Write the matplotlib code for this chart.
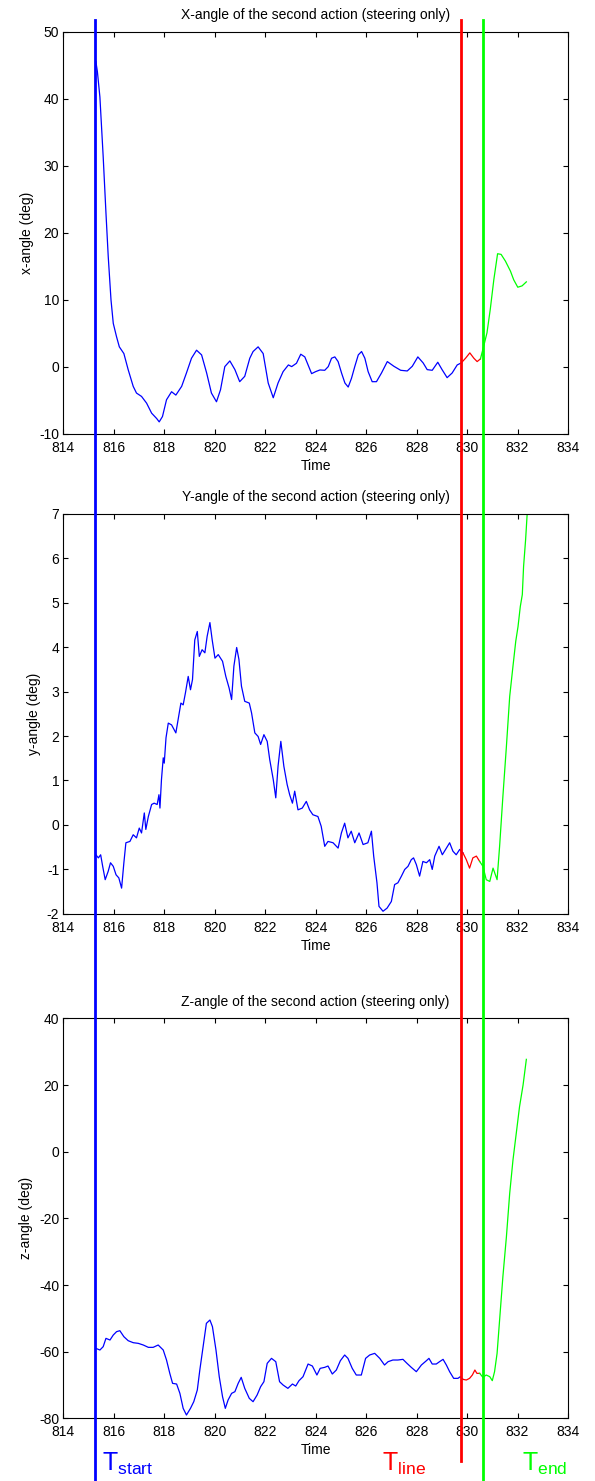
import numpy as np
import matplotlib
matplotlib.use("Agg")
import matplotlib.pyplot as plt
from matplotlib.lines import Line2D
from matplotlib.transforms import blended_transform_factory

plt.rcParams["font.family"] = ["Liberation Sans", "DejaVu Sans"]
plt.rcParams["mathtext.fontset"] = "custom"
plt.rcParams["mathtext.rm"] = "Liberation Sans"
plt.rcParams["axes.unicode_minus"] = False

# event times (s)
T_START = 815.27
T_LINE = 829.75
T_END = 830.62
RED_TO_GREEN = 830.42   # where trace colour switches to green

# --- X angle ---
x_time = [815.29, 815.35, 815.45, 815.58, 815.69, 815.78, 815.89, 815.98, 816.11, 816.22,
          816.40, 816.57, 816.77, 816.90, 817.10, 817.30, 817.50, 817.70, 817.80, 817.93,
          818.09, 818.29, 818.46, 818.69, 818.88, 819.08, 819.28, 819.48, 819.68, 819.87,
          820.07, 820.23, 820.40, 820.60, 820.80, 820.99, 821.19, 821.39, 821.52, 821.72,
          821.92, 822.12, 822.32, 822.51, 822.71, 822.92, 823.05, 823.24, 823.41, 823.57,
          823.70, 823.84, 824.00, 824.17, 824.36, 824.50, 824.63, 824.76, 824.89, 825.03,
          825.16, 825.29, 825.42, 825.55, 825.69, 825.82, 825.95, 826.08, 826.24, 826.41,
          826.61, 826.84, 827.10, 827.37, 827.63, 827.83, 828.05, 828.26, 828.42, 828.62,
          828.84, 829.01, 829.21, 829.41, 829.61, 829.77, 829.94, 830.11, 830.27, 830.40,
          830.53, 830.66, 830.79, 830.92, 831.06, 831.21, 831.35, 831.52, 831.72, 831.85,
          832.01, 832.18, 832.35]
x_vals = [45.6, 44.1, 40.3, 31.4, 23.0, 16.5, 10.0, 6.5, 4.5, 3.0,
          2.0, -0.4, -2.9, -3.9, -4.4, -5.4, -6.9, -7.7, -8.2, -7.4,
          -4.9, -3.7, -4.2, -2.9, -0.9, 1.3, 2.5, 1.8, -0.9, -3.9,
          -5.2, -3.4, 0.05, 0.9, -0.4, -2.2, -1.4, 1.3, 2.3, 3.0,
          2.0, -2.4, -4.6, -2.4, -0.7, 0.3, 0.05, 0.55, 1.9, 1.5,
          0.3, -1.0, -0.7, -0.45, -0.5, 0.05, 1.3, 1.5, 0.8, -0.95,
          -2.4, -3.0, -1.7, 0.05, 1.8, 2.3, 1.3, -0.7, -2.2, -2.2,
          -0.9, 0.8, 0.1, -0.5, -0.6, 0.1, 1.5, 0.6, -0.4, -0.5,
          0.7, -0.4, -1.6, -0.9, 0.3, 0.6, 1.3, 2.1, 1.3, 0.8,
          1.2, 3.1, 5.1, 8.6, 13.0, 16.9, 16.8, 15.8, 14.3, 13.0,
          11.9, 12.1, 12.7]

# --- Y angle ---
y_time = [815.29, 815.39, 815.48, 815.56, 815.66, 815.78, 815.87, 815.98, 816.09, 816.20,
          816.31, 816.40, 816.48, 816.64, 816.77, 816.90, 817.01, 817.10, 817.21, 817.27,
          817.37, 817.50, 817.60, 817.72, 817.79, 817.83, 817.89, 817.96, 818.00, 818.07,
          818.16, 818.29, 818.46, 818.55, 818.66, 818.75, 818.84, 818.95, 819.04, 819.12,
          819.21, 819.31, 819.39, 819.50, 819.61, 819.70, 819.81, 819.90, 820.01, 820.14,
          820.31, 820.44, 820.57, 820.67, 820.76, 820.87, 820.96, 821.06, 821.19, 821.37,
          821.46, 821.59, 821.72, 821.82, 821.95, 822.08, 822.18, 822.32, 822.42, 822.51,
          822.62, 822.74, 822.87, 822.97, 823.08, 823.17, 823.30, 823.47, 823.63, 823.76,
          823.89, 824.09, 824.22, 824.36, 824.49, 824.69, 824.89, 825.02, 825.15, 825.28,
          825.41, 825.55, 825.72, 825.88, 826.07, 826.21, 826.30, 826.43, 826.51, 826.67,
          826.83, 827.00, 827.13, 827.26, 827.40, 827.53, 827.66, 827.79, 827.88, 827.99,
          828.12, 828.25, 828.39, 828.52, 828.62, 828.72, 828.89, 829.02, 829.15, 829.31,
          829.44, 829.57, 829.71, 829.84, 829.97, 830.10, 830.23, 830.37, 830.50, 830.63,
          830.76, 830.90, 831.03, 831.19, 831.29, 831.42, 831.56, 831.69, 831.82, 831.93,
          832.02, 832.11, 832.19, 832.24, 832.32, 832.38]
y_vals = [-0.67, -0.74, -0.67, -0.93, -1.23, -1.04, -0.85, -0.93, -1.12, -1.19,
          -1.42, -0.85, -0.40, -0.37, -0.22, -0.29, -0.07, -0.18, 0.27, -0.10,
          0.19, 0.46, 0.49, 0.46, 0.68, 0.38, 1.02, 1.51, 1.39, 1.96,
          2.29, 2.25, 2.07, 2.37, 2.74, 2.70, 2.97, 3.34, 3.04, 3.27,
          4.16, 4.35, 3.79, 3.94, 3.87, 4.24, 4.55, 4.16, 3.75, 3.83,
          3.68, 3.34, 3.08, 2.82, 3.57, 3.99, 3.72, 3.12, 2.78, 2.74,
          2.52, 2.07, 1.99, 1.81, 2.03, 1.88, 1.47, 1.02, 0.61, 1.32,
          1.88, 1.32, 0.91, 0.68, 0.49, 0.76, 0.34, 0.38, 0.53, 0.34,
          0.23, 0.19, -0.03, -0.48, -0.37, -0.40, -0.52, -0.18, 0.04, -0.29,
          -0.14, -0.40, -0.18, -0.44, -0.40, -0.14, -0.70, -1.30, -1.83, -1.94,
          -1.87, -1.72, -1.34, -1.30, -1.15, -1.00, -0.93, -0.78, -0.74, -0.89,
          -1.15, -0.82, -0.85, -0.78, -1.00, -0.70, -0.48, -0.67, -0.55, -0.40,
          -0.59, -0.67, -0.55, -0.63, -0.78, -0.97, -0.74, -0.70, -0.82, -0.93,
          -1.23, -1.27, -0.97, -1.23, -0.48, 0.64, 1.77, 2.89, 3.57, 4.13,
          4.46, 4.91, 5.18, 5.81, 6.41, 6.97]

# --- Z angle ---
z_time = [815.29, 815.45, 815.58, 815.69, 815.85, 815.98, 816.11, 816.24, 816.40, 816.57,
          816.77, 816.97, 817.17, 817.37, 817.56, 817.76, 817.96, 818.09, 818.22, 818.33,
          818.49, 818.62, 818.75, 818.88, 819.04, 819.17, 819.31, 819.41, 819.54, 819.67,
          819.81, 819.91, 820.05, 820.18, 820.31, 820.42, 820.53, 820.67, 820.80, 820.93,
          821.05, 821.19, 821.37, 821.52, 821.68, 821.82, 821.95, 822.08, 822.25, 822.42,
          822.57, 822.71, 822.90, 823.08, 823.21, 823.34, 823.50, 823.70, 823.87, 824.05,
          824.18, 824.36, 824.49, 824.66, 824.82, 824.98, 825.15, 825.28, 825.45, 825.61,
          825.81, 825.98, 826.14, 826.34, 826.54, 826.73, 826.87, 827.06, 827.26, 827.46,
          827.62, 827.79, 827.99, 828.19, 828.39, 828.49, 828.62, 828.78, 828.91, 829.05,
          829.18, 829.31, 829.47, 829.64, 829.73, 829.84, 829.97, 830.10, 830.21, 830.31,
          830.39, 830.50, 830.63, 830.76, 830.90, 831.00, 831.09, 831.19, 831.29, 831.42,
          831.56, 831.69, 831.82, 831.95, 832.08, 832.22, 832.35]
z_vals = [-59.0, -59.5, -58.5, -56.0, -56.5, -55.0, -54.0, -53.7, -55.5, -56.7,
          -57.3, -57.5, -58.0, -58.7, -58.7, -58.0, -59.5, -62.5, -66.5, -69.5,
          -69.7, -72.5, -77.0, -79.0, -77.0, -75.0, -71.5, -65.5, -58.5, -51.5,
          -50.5, -52.5, -59.5, -67.5, -73.5, -77.0, -74.5, -72.5, -72.0, -69.5,
          -67.7, -71.0, -74.0, -75.0, -73.0, -70.5, -69.0, -63.5, -62.0, -63.0,
          -69.0, -70.0, -71.0, -69.7, -70.3, -68.7, -67.5, -63.7, -64.3, -67.0,
          -65.0, -64.7, -64.3, -66.7, -65.5, -62.7, -61.0, -62.0, -65.0, -67.0,
          -67.0, -62.0, -61.0, -60.5, -62.0, -64.0, -63.0, -62.5, -62.5, -62.3,
          -63.5, -64.7, -66.0, -64.0, -62.7, -62.0, -63.7, -63.7, -63.0, -62.3,
          -64.0, -66.0, -68.0, -68.0, -67.5, -68.3, -68.5, -68.0, -67.0, -65.5,
          -66.5, -66.5, -67.7, -67.0, -67.5, -68.7, -66.0, -60.5, -50.5, -37.5,
          -25.5, -12.5, -2.5, 5.5, 13.5, 20.0, 27.7]

panels = [
    (x_time, x_vals, "X-angle of the second action (steering only)", "x-angle (deg)", (-10, 50), 10),
    (y_time, y_vals, "Y-angle of the second action (steering only)", "y-angle (deg)", (-2, 7), 1),
    (z_time, z_vals, "Z-angle of the second action (steering only)", "z-angle (deg)", (-80, 40), 20),
]
positions = [[0.1064, 0.7070, 0.8482, 0.2714],
             [0.1064, 0.3829, 0.8482, 0.2703],
             [0.1064, 0.0423, 0.8482, 0.2701]]

BLUE, RED, GREEN = "#0000ff", "#ff0000", "#00ff00"
FS = 10

fig = plt.figure(figsize=(5.95, 14.81), dpi=100)
axes = []
for (t, v, title, ylabel, ylim, ystep), pos in zip(panels, positions):
    ax = fig.add_axes(pos)
    t = np.asarray(t)
    v = np.asarray(v)
    i_red = np.searchsorted(t, T_LINE)
    i_grn = np.searchsorted(t, RED_TO_GREEN)
    ax.plot(t[:i_red + 1], v[:i_red + 1], color=BLUE, lw=0.9)
    ax.plot(t[i_red:i_grn + 1], v[i_red:i_grn + 1], color=RED, lw=0.9)
    ax.plot(t[i_grn:], v[i_grn:], color=GREEN, lw=0.9)

    ax.set_xlim(814, 834)
    ax.set_xticks(np.arange(814, 835, 2))
    ax.set_ylim(*ylim)
    ax.set_yticks(np.arange(ylim[0], ylim[1] + 0.5 * ystep, ystep))
    ax.tick_params(direction="in", top=True, right=True, length=3.5, width=0.8,
                   labelsize=FS, pad=3)
    ax.tick_params(axis="x", pad=5)
    for s in ax.spines.values():
        s.set_linewidth(0.8)
    ax.set_title(title, fontsize=FS, pad=9)
    ax.set_xlabel("Time", fontsize=FS, labelpad=3)
    ax.set_ylabel(ylabel, fontsize=FS, labelpad=4)
    axes.append(ax)

# event lines spanning the whole figure
tr = blended_transform_factory(axes[2].transData, fig.transFigure)
fig.add_artist(Line2D([T_START, T_START], [0.0, 0.9865], transform=tr, color=BLUE, lw=2))
fig.add_artist(Line2D([T_LINE, T_LINE], [0.0135, 0.9865], transform=tr, color=RED, lw=2))
fig.add_artist(Line2D([T_END, T_END], [0.0, 0.9865], transform=tr, color=GREEN, lw=2))

fig.text(0.171, 0.0068, r"$\mathrm{T}_{\mathrm{start}}$", color=BLUE, fontsize=18, va="baseline")
fig.text(0.6415, 0.0068, r"$\mathrm{T}_{\mathrm{line}}$", color=RED, fontsize=18, va="baseline")
fig.text(0.877, 0.0068, r"$\mathrm{T}_{\mathrm{end}}$", color=GREEN, fontsize=18, va="baseline")

fig.savefig("out.png", dpi=100, facecolor="white")
